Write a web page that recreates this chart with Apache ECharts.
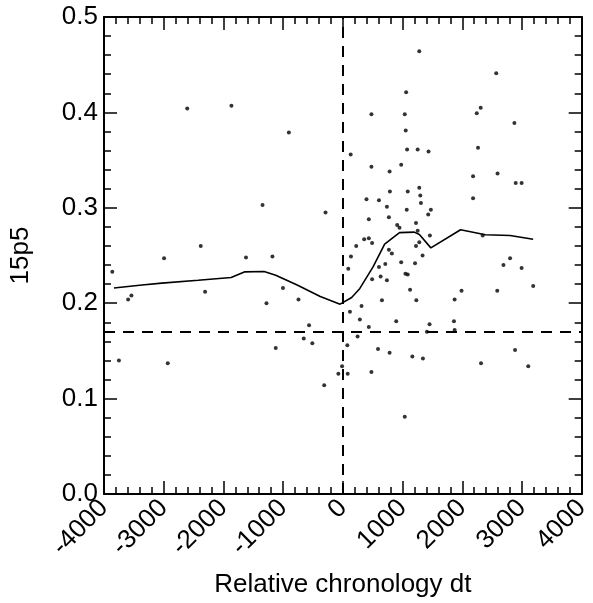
<!DOCTYPE html>
<html><head><meta charset="utf-8">
<script src="https://cdn.jsdelivr.net/npm/echarts@6/dist/echarts.min.js"></script>
<style>html,body{margin:0;padding:0;background:#fff}#c{width:593px;height:603px}</style>
</head><body><div id="c"></div>
<script>
const xTitle = 'Relative chronology dt';
const yTitle = '15p5';
const xRange = [-4000, 4000];
const yRange = [0, 0.5];
const vRefX = 0;
const hRefY = 0.172;
const curve = [[-3833,0.216],[-3363,0.219],[-3032,0.221],[-2424,0.224],[-1871,0.227],[-1650,0.2328],[-1318,0.2332],[-1124,0.2293],[-765,0.219],[-378,0.207],[-46,0.199],[148,0.206],[285,0.2155],[506,0.238],[700,0.262],[949,0.274],[1197,0.2745],[1282,0.272],[1474,0.258],[1972,0.277],[2386,0.2718],[2801,0.271],[3187,0.267]];
const points = [[-3861,0.233],[-3596,0.204],[-3541,0.208],[-3750,0.140],[-2994,0.247],[-2932,0.137],[-2606,0.404],[-2380,0.260],[-2307,0.212],[-1866,0.407],[-1622,0.248],[-1345,0.303],[-1279,0.200],[-1179,0.249],[-1124,0.153],[-1003,0.216],[-904,0.379],[-743,0.204],[-655,0.163],[-566,0.177],[-511,0.158],[-312,0.114],[-290,0.295],[-75,0.126],[-13,0.134],
[81,0.126],[75,0.156],[91,0.236],[119,0.191],[131,0.356],[136,0.249],[224,0.260],[247,0.165],[285,0.183],[313,0.197],[357,0.267],[396,0.309],[435,0.175],[435,0.288],[435,0.268],[479,0.128],[479,0.398],[479,0.343],[490,0.263],[490,0.225],[589,0.152],[605,0.308],[605,0.238],[633,0.228],[655,0.203],[711,0.241],[738,0.301],[738,0.224],[771,0.290],[771,0.256],[783,0.148],[783,0.338],[788,0.317],[821,0.252],[894,0.181],[910,0.282],[949,0.279],[977,0.345],[977,0.243],[1037,0.398],[1037,0.081],[1048,0.231],[1053,0.381],[1060,0.421],[1070,0.298],[1076,0.361],[1087,0.317],[1087,0.230],[1126,0.214],[1164,0.144],[1209,0.242],[1225,0.284],[1225,0.260],[1231,0.203],[1253,0.361],[1253,0.276],[1280,0.464],[1280,0.321],[1280,0.264],[1297,0.313],[1308,0.305],[1335,0.250],[1341,0.142],[1408,0.170],[1430,0.293],[1435,0.359],[1452,0.178],[1458,0.271],[1474,0.298],[1861,0.181],[1872,0.204],[1872,0.172],[1988,0.213],[2181,0.333],[2181,0.310],[2243,0.399],[2264,0.363],[2309,0.405],[2314,0.137],[2342,0.271],[2569,0.441],[2586,0.213],[2591,0.336],[2690,0.240],[2801,0.247],[2873,0.389],[2884,0.151],[2895,0.326],[2994,0.326],[2994,0.237],[3105,0.134],[3188,0.218]];

const font = 'Liberation Sans, Arial, sans-serif';
const axLine = {show:true, lineStyle:{color:'#000', width:2}};
const tick = {show:true, inside:true, length:13, lineStyle:{color:'#000', width:1.5}};
const minor = {show:true, splitNumber:5, length:7, lineStyle:{color:'#000', width:1.5}};
function xAx(pos, labels){
  return {type:'value', position:pos, min:xRange[0], max:xRange[1], interval:1000,
    axisLine:Object.assign({onZero:false}, axLine), axisTick:tick, minorTick:minor,
    splitLine:{show:false}, minorSplitLine:{show:false},
    axisLabel:{show:labels, rotate:45, margin:10, color:'#000', fontSize:26, fontFamily:font,
      formatter:v=>String(Math.round(v))},
    name: labels ? xTitle : '', nameLocation:'middle', nameGap:78,
    nameTextStyle:{color:'#000', fontSize:26, fontFamily:font}};
}
function yAx(pos, labels){
  return {type:'value', position:pos, min:yRange[0], max:yRange[1], interval:0.1,
    axisLine:Object.assign({onZero:false}, axLine), axisTick:tick, minorTick:minor,
    splitLine:{show:false}, minorSplitLine:{show:false},
    axisLabel:{show:labels, margin:6, color:'#000', fontSize:26, fontFamily:font,
      formatter:v=>v.toFixed(1)},
    name: labels ? yTitle : '', nameLocation:'middle', nameGap:70,
    nameTextStyle:{color:'#000', fontSize:26, fontFamily:font}};
}
const chart = echarts.init(document.getElementById('c'), null, {renderer:'canvas'});
chart.setOption({
  animation:false,
  backgroundColor:'#fff',
  grid:{left:101.5, right:9, top:17, bottom:103, containLabel:false},
  xAxis:[xAx('bottom', true), xAx('top', false)],
  yAxis:[yAx('left', true), yAx('right', false)],
  series:[
    {type:'scatter', data:points, symbol:'circle', symbolSize:4,
     itemStyle:{color:'#000'}, silent:true},
    {type:'line', data:curve, showSymbol:false, symbol:'none',
     lineStyle:{color:'#000', width:1.6}, silent:true,
     markLine:{silent:true, symbol:'none', label:{show:false},
       lineStyle:{color:'#000', width:2, type:[11,8]},
       data:[{xAxis:vRefX}, {yAxis:hRefY}]}}
  ]
});
</script></body></html>
